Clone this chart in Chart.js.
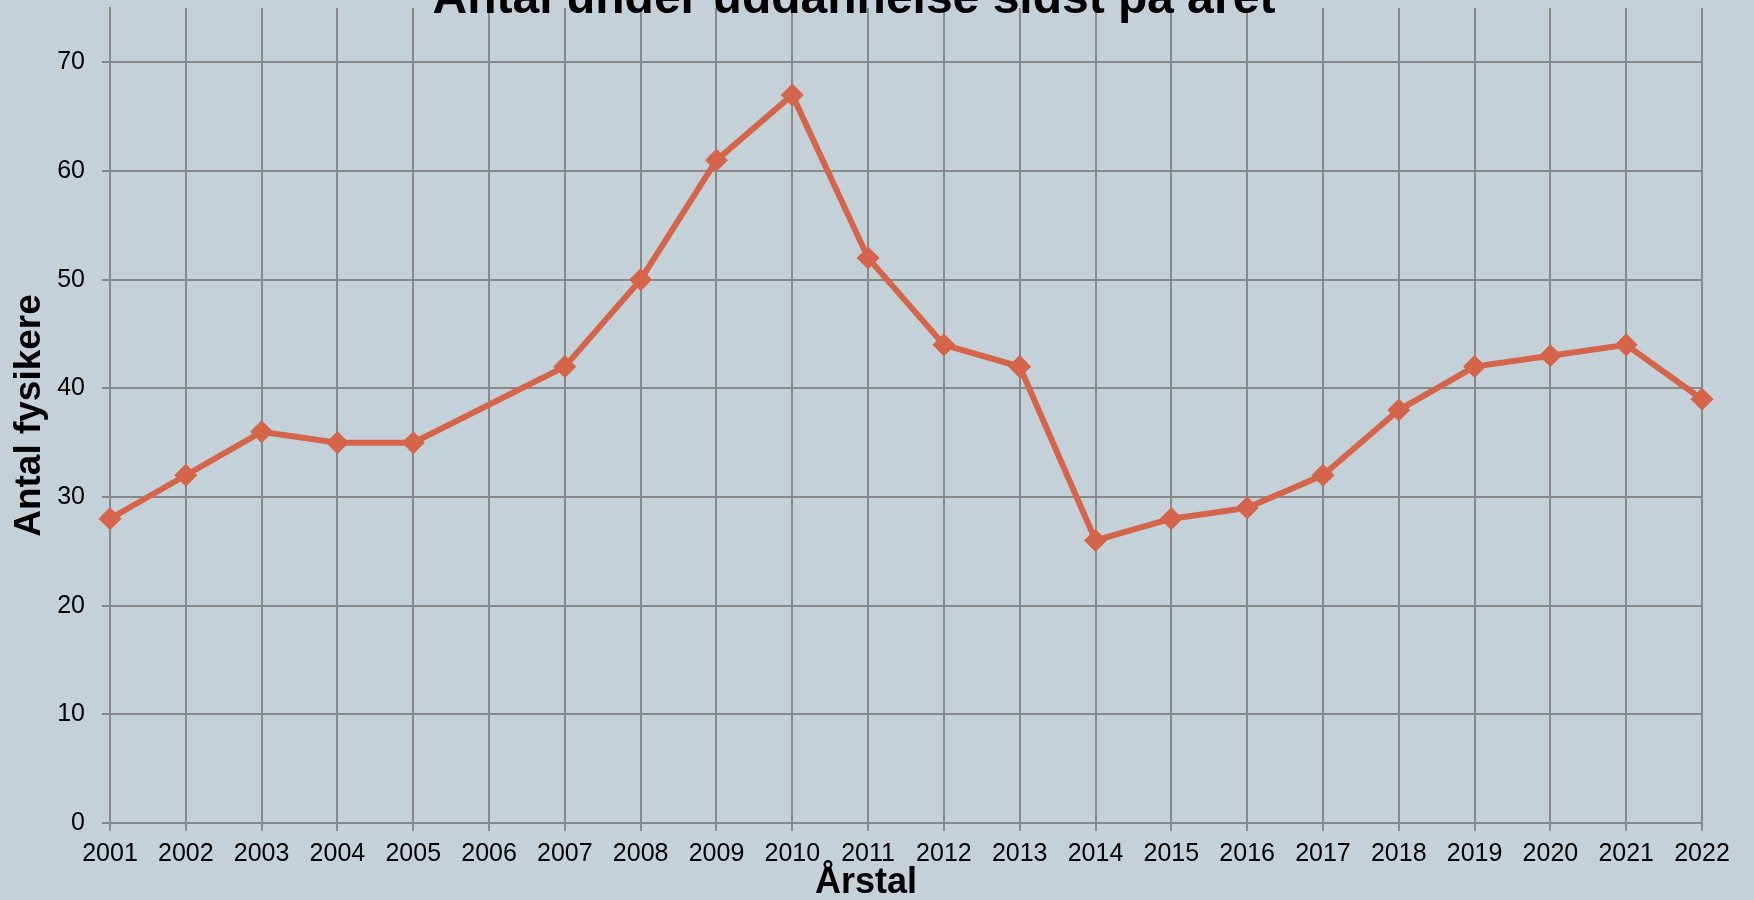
<!DOCTYPE html>
<html>
<head>
<meta charset="utf-8">
<script src="https://cdn.jsdelivr.net/npm/chart.js@4"></script>
<style>
    html, body { margin: 0; padding: 0; background: #C5D1D8; overflow: hidden; }
    #wrap { position: relative; width: 1754px; height: 900px; }
</style>
</head>
<body>
<div id="wrap"><canvas id="chart"></canvas></div>
<script>
// Data (2006 has no value, the line just spans it)
const years = ['2001', '2002', '2003', '2004', '2005', '2006', '2007', '2008', '2009', '2010', '2011',
               '2012', '2013', '2014', '2015', '2016', '2017', '2018', '2019', '2020', '2021', '2022'];
const physicists = [28, 32, 36, 35, 35, null, 42, 50, 61, 67, 52,
                    44, 42, 26, 28, 29, 32, 38, 42, 43, 44, 39];
const yTicks = [0, 10, 20, 30, 40, 50, 60, 70];

const chartTitle = 'Antal under uddannelse sidst på året';
const xTitle = 'Årstal';
const yTitle = 'Antal fysikere';

const FONT = '"Liberation Sans", Arial, sans-serif';
const GRID = '#898989';
const LINE = '#D4654A';

// The title is cut off at the top and the x title sits left of the plot centre
// in the original, so both are drawn by hand
const titlesPlugin = {
    id: 'titles',
    afterDraw(chart) {
        const ctx = chart.ctx;
        const area = chart.chartArea;
        ctx.save();
        ctx.fillStyle = '#000';
        ctx.textAlign = 'center';
        ctx.textBaseline = 'alphabetic';
        ctx.font = 'bold 48px ' + FONT;
        ctx.fillText(chartTitle, chart.width / 2 - 23, 13);
        ctx.font = 'bold 36px ' + FONT;
        ctx.fillText(xTitle, (area.left + area.right) / 2 - 40, chart.height - 7);
        ctx.restore();
    }
};

const ctx = document.getElementById('chart').getContext('2d');
const chart = new Chart(ctx, {
    type: 'line',
    data: {
        labels: years,
        datasets: [{
            data: physicists,
            borderColor: LINE,
            backgroundColor: LINE,
            borderWidth: 6,
            tension: 0,
            spanGaps: true,
            clip: false,
            pointStyle: 'rectRot',
            pointRadius: 11,
            pointBorderWidth: 1,
            pointBackgroundColor: LINE,
            pointBorderColor: LINE
        }]
    },
    options: {
        responsive: true,
        maintainAspectRatio: false,
        animation: false,
        layout: { autoPadding: false, padding: { left: 0, right: 52, top: 8, bottom: 0 } },
        plugins: {
            legend: { display: false },
            tooltip: { enabled: false },
            title: { display: false }
        },
        scales: {
            x: {
                type: 'category',
                offset: false,
                grid: { color: GRID, lineWidth: 2, tickLength: 8, offset: false },
                border: { color: GRID, width: 2 },
                ticks: {
                    color: '#000',
                    font: { family: FONT, size: 25 },
                    padding: 8,
                    maxRotation: 0,
                    autoSkip: false
                },
                afterFit(scale) { scale.height = 77; }
            },
            y: {
                min: 0,
                max: 75,
                grid: { color: GRID, lineWidth: 2, tickLength: 8 },
                border: { color: GRID, width: 2 },
                ticks: {
                    color: '#000',
                    font: { family: FONT, size: 25 },
                    padding: 17,
                    stepSize: 10
                },
                afterBuildTicks(scale) {
                    scale.ticks = yTicks.map(v => ({ value: v }));
                },
                title: {
                    display: true,
                    text: yTitle,
                    color: '#000',
                    font: { family: FONT, size: 37, weight: 'bold', lineHeight: 1.2 },
                    padding: { top: 8, bottom: 0 }
                },
                afterFit(scale) {
                    scale.width = 110;
                    // top tick is 70, not the 75 max, so no room is needed for a label up there
                    scale.paddingTop = 0;
                    scale.paddingBottom = 0;
                }
            }
        }
    },
    plugins: [titlesPlugin]
});
</script>
</body>
</html>
